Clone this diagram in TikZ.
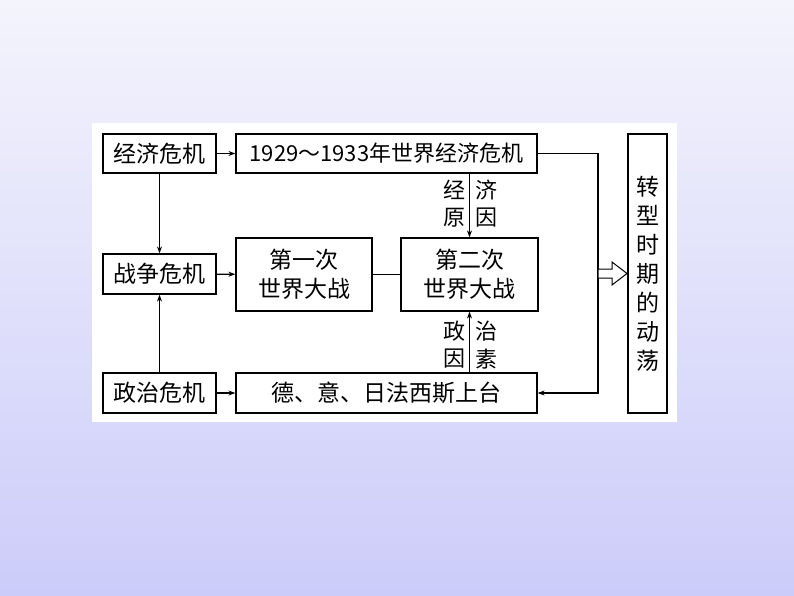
\documentclass[tikz,border=0pt]{standalone}
\usepackage{fontspec}
\newfontfamily\cjk{Noto Sans CJK SC}
\usetikzlibrary{arrows.meta,positioning}
\definecolor{bgtop}{RGB}{244,244,252}
\definecolor{bgbot}{RGB}{204,204,250}
\begin{document}
\begin{tikzpicture}[x=1pt,y=-1pt,
  box/.style={draw,line width=1.2pt,fill=white,inner sep=0pt,align=center,
    font=\cjk\fontsize{23}{29}\selectfont},
  lbl/.style={inner sep=0pt,font=\cjk\fontsize{22}{26}\selectfont},
  link/.style={line width=1.2pt,-{Stealth[length=7pt,width=5pt]}}]
\useasboundingbox (0,0) rectangle (794,596);
\shade[top color=bgtop,bottom color=bgbot] (0,0) rectangle (794,596);
\fill[white] (92,123) rectangle (677,422);

% left column
\node[box,minimum width=113,minimum height=39] (econ) at (159.5,153.5) {经济危机};
\node[box,minimum width=113,minimum height=40] (war) at (159.5,274) {战争危机};
\node[box,minimum width=113,minimum height=40] (pol) at (159.5,393) {政治危机};

% middle
\node[box,minimum width=301,minimum height=39] (crash) at (386.5,153.5) {\fontsize{22}{26}\selectfont 1929～1933年世界经济危机};
\node[box,minimum width=136,minimum height=73] (ww1) at (304,274.5) {第一次\\世界大战};
\node[box,minimum width=137,minimum height=73] (ww2) at (469.5,274.5) {第二次\\世界大战};
\node[box,minimum width=301,minimum height=40] (fasc) at (386.5,393) {德、意、日法西斯上台};

% right
\node[box,minimum width=39,minimum height=279] (turn) at (647.5,273.5) {转\\型\\时\\期\\的\\动\\荡};
\coordinate (bend1) at (598,153.5);
\coordinate (bend2) at (598,393);

\draw[link] (econ) -- (crash);
\draw[link] (war) -- (ww1);
\draw[link] (pol) -- (fasc);
\draw[link] (econ) -- (war);
\draw[link] (pol) -- (war);
\draw[line width=1.2pt] (ww1) -- (ww2);
\draw[link] (crash.south -| ww2.north) -- (ww2.north);
\draw[link] (fasc.north -| ww2.south) -- (ww2.south);
\draw[link] (crash.east) -- (bend1) -- (bend2) -- (fasc.east);

% hollow arrow
\draw[line width=1pt,fill=white] (598,269) -- (612,269) -- (612,262) -- (627,273.5)
  -- (612,285) -- (612,278) -- (598,278) -- cycle;

% labels
\node[lbl] (l1) at (454,190) {经};
\node[lbl] (l2) at (454,218) {原};
\node[lbl] (l3) at (486,190) {济};
\node[lbl] (l4) at (486,218) {因};
\node[lbl] (l5) at (454,331) {政};
\node[lbl] (l6) at (454,359) {因};
\node[lbl] (l7) at (486,331) {治};
\node[lbl] (l8) at (486,359) {素};
\end{tikzpicture}
\end{document}
